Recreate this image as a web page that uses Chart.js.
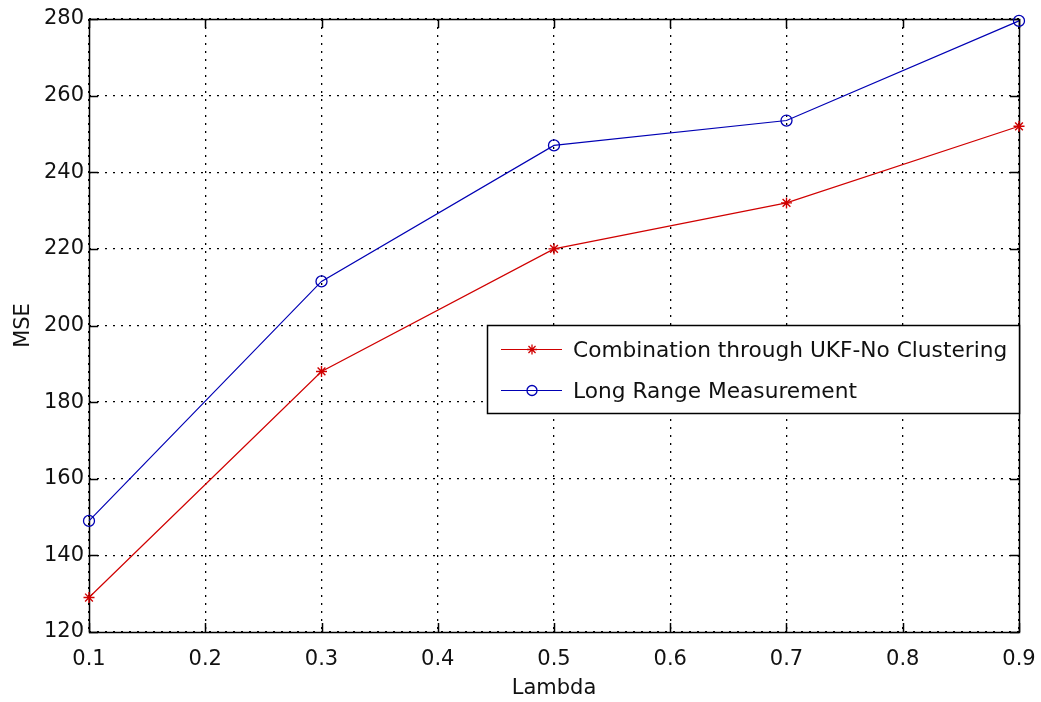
<!DOCTYPE html>
<html>
<head>
<meta charset="utf-8">
<script src="https://cdn.jsdelivr.net/npm/chart.js@4/dist/chart.umd.min.js"></script>
<style>
  html, body { margin: 0; padding: 0; background: #fff; }
  #wrap { width: 1041px; height: 702px; position: relative; }
</style>
</head>
<body>
<div id="wrap"><canvas id="c" width="1041" height="702"></canvas></div>
<script>
const lambdaValues = [0.1, 0.3, 0.5, 0.7, 0.9];
const ukfNoClustering = [129, 188, 220, 232, 252];
const longRangeMeasurement = [149, 211.5, 247, 253.5, 279.5];
const xTickLabels = ['0.1','0.2','0.3','0.4','0.5','0.6','0.7','0.8','0.9'];
const yTickLabels = ['120','140','160','180','200','220','240','260','280'];
const seriesNames = ['Combination through UKF-No Clustering', 'Long Range Measurement'];

const FONT = 'DejaVu Sans';
const FS = 21;
const LEG_FS = 21.7;
const RED = '#d00000';
const BLUE = '#0000b4';

const PLOT = { left: 89, top: 19, right: 1019, bottom: 632 };

const boxPlugin = {
  id: 'matlabBox',
  beforeDatasetsDraw(chart) {
    const ctx = chart.ctx;
    const xs = chart.scales.x, ys = chart.scales.y;
    const L = xs.left, R = xs.right, T = ys.top, B = ys.bottom;
    ctx.save();
    ctx.strokeStyle = '#000';
    ctx.lineWidth = 1.5;
    ctx.strokeRect(Math.round(L) + 0.5, Math.round(T) + 0.5, Math.round(R - L), Math.round(B - T));
    const tl = 9;
    xs.ticks.forEach(t => {
      const px = Math.round(xs.getPixelForValue(t.value)) + 0.5;
      ctx.beginPath();
      ctx.moveTo(px, B); ctx.lineTo(px, B - tl);
      ctx.moveTo(px, T); ctx.lineTo(px, T + tl);
      ctx.stroke();
    });
    ys.ticks.forEach(t => {
      const py = Math.round(ys.getPixelForValue(t.value)) + 0.5;
      ctx.beginPath();
      ctx.moveTo(L, py); ctx.lineTo(L + tl, py);
      ctx.moveTo(R, py); ctx.lineTo(R - tl, py);
      ctx.stroke();
    });
    ctx.restore();
  },
  afterDatasetsDraw(chart) {
    const ctx = chart.ctx;
    const R = chart.scales.x.right;
    ctx.save();
    // legend box
    const lx = 487, ly = 325, lw = Math.round(R) - 487, lh = 88;
    ctx.fillStyle = '#fff';
    ctx.fillRect(lx, ly, lw, lh);
    ctx.lineWidth = 1.5;
    ctx.strokeStyle = '#000';
    ctx.strokeRect(lx + 0.5, ly + 0.5, lw, lh);
    const rows = [
      { y: 349, color: RED, style: 'star', name: seriesNames[0] },
      { y: 390, color: BLUE, style: 'circle', name: seriesNames[1] }
    ];
    rows.forEach(r => {
      ctx.strokeStyle = r.color;
      ctx.lineWidth = 1.2;
      ctx.beginPath();
      ctx.moveTo(501, r.y + 0.5); ctx.lineTo(562, r.y + 0.5);
      ctx.stroke();
      ctx.lineWidth = 1.3;
      ctx.fillStyle = 'rgba(0,0,0,0)';
      Chart.helpers.drawPoint(ctx, { pointStyle: r.style, radius: 5, borderWidth: 1.3, rotation: 0 }, 532, r.y + 0.5);
      ctx.fillStyle = '#111';
      ctx.font = LEG_FS + 'px "' + FONT + '"';
      ctx.textBaseline = 'middle';
      ctx.textAlign = 'left';
      ctx.fillText(r.name, 573, r.y + 2);
    });
    ctx.restore();
  }
};

const ctx = document.getElementById('c').getContext('2d');
new Chart(ctx, {
  type: 'line',
  data: {
    datasets: [
      {
        label: seriesNames[0],
        data: lambdaValues.map((x, i) => ({ x, y: ukfNoClustering[i] })),
        borderColor: RED, backgroundColor: 'transparent',
        borderWidth: 1.2, pointStyle: 'star', pointRadius: 5.5,
        pointBorderColor: RED, pointBorderWidth: 1.4, tension: 0, clip: false
      },
      {
        label: seriesNames[1],
        data: lambdaValues.map((x, i) => ({ x, y: longRangeMeasurement[i] })),
        borderColor: BLUE, backgroundColor: 'transparent',
        borderWidth: 1.2, pointStyle: 'circle', pointRadius: 5.5,
        pointBorderColor: BLUE, pointBackgroundColor: 'transparent', pointBorderWidth: 1.3, tension: 0, clip: false
      }
    ]
  },
  options: {
    responsive: false,
    animation: false,
    devicePixelRatio: 1,
    layout: { padding: { left: 0, top: PLOT.top, right: 1041 - PLOT.right, bottom: 0 } },
    plugins: { legend: { display: false }, tooltip: { enabled: false } },
    scales: {
      x: {
        type: 'linear', min: 0.1, max: 0.9,
        afterFit(s) { s.height = 702 - PLOT.bottom; s.paddingLeft = 0; s.paddingRight = 0; },
        afterBuildTicks(s) { s.ticks = xTickLabels.map(v => ({ value: parseFloat(v) })); },
        ticks: {
          callback: (v, i) => xTickLabels[i],
          color: '#111', font: { family: FONT, size: FS }, padding: 15, maxRotation: 0, autoSkip: false
        },
        grid: { color: '#000', lineWidth: 1.3, drawTicks: false, tickLength: 0 },
        border: { display: false, dash: [2, 6] },
        title: { display: true, text: 'Lambda', color: '#111', font: { family: FONT, size: FS }, padding: { top: 0, bottom: 1 } }
      },
      y: {
        type: 'linear', min: 120, max: 280,
        afterFit(s) { s.width = PLOT.left; s.paddingTop = 0; s.paddingBottom = 0; },
        afterBuildTicks(s) { s.ticks = yTickLabels.map(v => ({ value: parseFloat(v) })); },
        ticks: {
          callback: (v, i) => yTickLabels[i],
          color: '#111', font: { family: FONT, size: FS }, padding: 5
        },
        grid: { color: '#000', lineWidth: 1.3, drawTicks: false, tickLength: 0 },
        border: { display: false, dash: [2, 6] },
        title: { display: true, text: 'MSE', color: '#111', font: { family: FONT, size: FS }, padding: { top: 11, bottom: 0 } }
      }
    }
  },
  plugins: [boxPlugin]
});
</script>
</body>
</html>
